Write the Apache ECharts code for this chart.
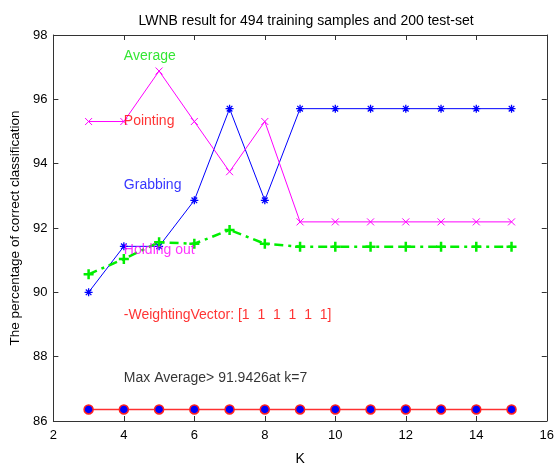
<!DOCTYPE html>
<html>
<head>
<meta charset="utf-8">
<script src="https://cdn.jsdelivr.net/npm/echarts@6/dist/echarts.min.js"></script>
<style>
  html, body { margin:0; padding:0; background:#fff; }
  #chart { width:557px; height:471px; }
</style>
</head>
<body>
<div id="chart"></div>
<script>
const kValues = [3, 4, 5, 6, 7, 8, 9, 10, 11, 12, 13, 14, 15];
const grabbing   = [90.00, 91.43, 91.43, 92.86, 95.71, 92.86, 95.71, 95.71, 95.71, 95.71, 95.71, 95.71, 95.71];
const pointing   = [95.31, 95.31, 96.88, 95.31, 93.75, 95.31, 92.19, 92.19, 92.19, 92.19, 92.19, 92.19, 92.19];
const holdingOut = [86.36, 86.36, 86.36, 86.36, 86.36, 86.36, 86.36, 86.36, 86.36, 86.36, 86.36, 86.36, 86.36];
const average    = [90.56, 91.04, 91.56, 91.51, 91.94, 91.51, 91.42, 91.42, 91.42, 91.42, 91.42, 91.42, 91.42];

// text labels drawn inside the axes, [k, value, text, color]
const notes = [
  [4, 97.35, "Average", "#00e000"],
  [4, 95.33, "Pointing", "#ff0000"],
  [4, 93.34, "Grabbing", "#0000ff"],
  [4, 91.30, "Holding out", "#ff00ff"],
  [4, 89.29, "-WeightingVector: [1  1  1  1  1  1]", "#ff0000"],
  [4, 87.32, "Max Average> 91.9426at k=7", "#000000"]
];

const FONT = "'Liberation Sans', Arial, sans-serif";

const asterisk = "path://M5,0L5,10M0,5L10,5M1.5,1.5L8.5,8.5M8.5,1.5L1.5,8.5";
const cross    = "path://M0,0L10,10M10,0L0,10";
const plus     = "path://M5,0L5,10M0,5L10,5";

const pair = arr => kValues.map((k, i) => [k, arr[i]]);

const chart = echarts.init(document.getElementById("chart"));

const axisCommon = {
  axisLine: { show: true, onZero: false, lineStyle: { color: "#333", width: 1 } },
  axisTick: { show: true, inside: true, length: 5, lineStyle: { color: "#333" } },
  splitLine: { show: false }
};

chart.setOption({
  animation: false,
  backgroundColor: "#fff",
  title: {
    text: "LWNB result for 494 training samples and 200 test-set",
    left: 301, top: 9, textAlign: "center",
    textStyle: { fontFamily: FONT, fontSize: 14, fontWeight: "normal", color: "#000" }
  },
  grid: { left: 53, right: 7, top: 35, bottom: 43 },
  xAxis: [
    Object.assign({}, axisCommon, {
      type: "value", min: 2, max: 16, interval: 2, position: "bottom",
      name: "K", nameLocation: "middle", nameGap: 31,
      nameTextStyle: { fontFamily: FONT, fontSize: 14, color: "#000" },
      axisLabel: { margin: 8, fontFamily: FONT, fontSize: 13, color: "#000" }
    }),
    Object.assign({}, axisCommon, {
      type: "value", min: 2, max: 16, interval: 2, position: "top",
      axisLabel: { show: false }
    })
  ],
  yAxis: [
    Object.assign({}, axisCommon, {
      type: "value", min: 86, max: 98, interval: 2, position: "left",
      name: "The percentage of correct classification", nameLocation: "middle", nameGap: 30,
      nameTextStyle: { fontFamily: FONT, fontSize: 13.5, color: "#000" },
      axisLabel: { margin: 6, fontFamily: FONT, fontSize: 13, color: "#000" }
    }),
    Object.assign({}, axisCommon, {
      type: "value", min: 86, max: 98, interval: 2, position: "right",
      axisLabel: { show: false }
    })
  ],
  series: [
    {
      name: "Grabbing", type: "line", data: pair(grabbing),
      symbol: asterisk, symbolSize: 8, showAllSymbol: true,
      lineStyle: { color: "#0000ff", width: 1 },
      itemStyle: { color: "#0000ff", borderColor: "#0000ff", borderWidth: 1.3 }
    },
    {
      name: "Pointing", type: "line", data: pair(pointing),
      symbol: cross, symbolSize: 7,
      lineStyle: { color: "#ff00ff", width: 1 },
      itemStyle: { color: "#ff00ff", borderColor: "#ff00ff", borderWidth: 1 }
    },
    {
      name: "Holding out", type: "line", data: pair(holdingOut),
      symbol: "circle", symbolSize: 9,
      lineStyle: { color: "#ff3030", width: 1.5 },
      itemStyle: { color: "#0000ff", borderColor: "#ff2020", borderWidth: 1.5 }
    },
    {
      name: "Average", type: "line", data: pair(average),
      symbol: plus, symbolSize: 10,
      lineStyle: { color: "#00ee00", width: 2.5, type: [9, 5, 3, 5] },
      itemStyle: { color: "#00ee00", borderColor: "#00ee00", borderWidth: 2.5 }
    },
    {
      name: "notes", type: "scatter", symbolSize: 0, silent: true, z: 5,
      data: notes.map(n => ({
        value: [n[0], n[1]],
        label: {
          show: true, position: "right", distance: 0,
          formatter: n[2], color: n[3],
          fontFamily: FONT, fontSize: 14
        }
      }))
    }
  ]
});
</script>
</body>
</html>
